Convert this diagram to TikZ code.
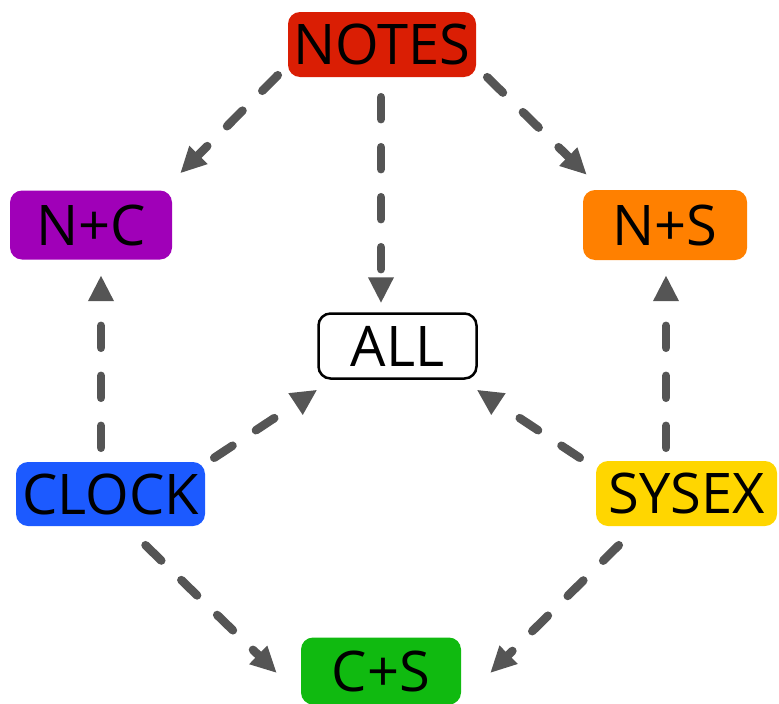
\documentclass[tikz,border=0pt]{standalone}
\usepackage{fontspec}
\setmainfont{Open Sans}
\usetikzlibrary{arrows.meta,positioning}
\definecolor{notesred}{RGB}{218,30,4}
\definecolor{ncpurple}{RGB}{160,0,184}
\definecolor{nsorange}{RGB}{255,128,0}
\definecolor{clockblue}{RGB}{28,90,255}
\definecolor{sysyellow}{RGB}{255,214,0}
\definecolor{csgreen}{RGB}{16,186,16}
\definecolor{flowgray}{RGB}{85,85,85}
\tikzset{
	tag/.style={rounded corners=12pt,inner sep=0pt,text=black,font=\fontsize{56}{60}\selectfont},
	flow/.style={-{Triangle[width=24pt,length=26pt]},color=flowgray,line width=8.5pt,line cap=round,dash pattern=on 22pt off 28pt}
}
\begin{document}
\begin{tikzpicture}[x=1pt,y=-1pt]
				\useasboundingbox (0,0) rectangle (779,704);
				%%%% top row
				\node[tag,fill=notesred,minimum width=188pt,minimum height=65pt] (notes) at (382,44.5) {NOTES};
				\node[tag,fill=ncpurple,minimum width=162pt,minimum height=69pt] (nc) at (91,225) {N+C};
				\node[tag,fill=nsorange,minimum width=164pt,minimum height=70pt] (ns) at (665,225) {N+S};
				
				%%%% middle
				\node[tag,draw=black,line width=2.5pt,fill=white,minimum width=158pt,minimum height=65pt] (all) at (397.5,346) {ALL};
				
				%%%% bottom row
				\node[tag,fill=clockblue,minimum width=189pt,minimum height=64pt] (clock) at (110.5,494) {CLOCK};
				\node[tag,fill=sysyellow,minimum width=181pt,minimum height=65pt] (sysex) at (686.5,493.5) {SYSEX};
				\node[tag,fill=csgreen,minimum width=160pt,minimum height=67pt] (cs) at (381,671) {C+S};
				
				%%%% arrows from NOTES
				\draw[flow] ([shift={(-10,-2)}]notes.south west) -- ([shift={(8,-17)}]nc.north east);
				\draw[flow] ([shift={(-1,20)}]notes.south) -- ([shift={(-16.5,-9)}]all.north);
				\draw[flow] ([shift={(11,0)}]notes.south east) -- ([shift={(4,-15)}]ns.north west);
				
				%%%% arrows from CLOCK
				\draw[flow] ([shift={(-9.5,-14)}]clock.north) -- ([shift={(10,15.5)}]nc.south);
				\draw[flow] ([shift={(9,-4)}]clock.north east) -- ([shift={(0,10)}]all.south west);
				\draw[flow] ([shift={(35,19)}]clock.south) -- ([shift={(-24,2)}]cs.west);
				
				%%%% arrows from SYSEX
				\draw[flow] ([shift={(-20.5,-13)}]sysex.north) -- ([shift={(1,15)}]ns.south);
				\draw[flow] ([shift={(-16,-3)}]sysex.north west) -- ([shift={(-1,10)}]all.south east);
				\draw[flow] ([shift={(23,19)}]sysex.south west) -- ([shift={(29,2)}]cs.east);
		\end{tikzpicture}
\end{document}
